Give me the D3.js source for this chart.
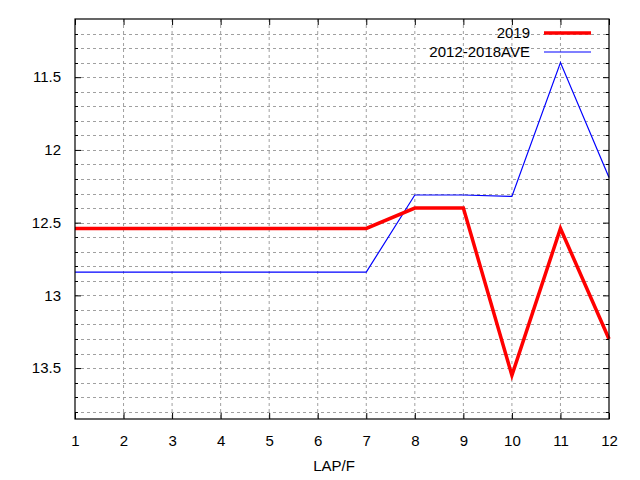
<!DOCTYPE html>
<html>
<head>
<meta charset="utf-8">
<script src="https://cdn.jsdelivr.net/npm/d3@7"></script>
<style>
  body { margin: 0; background: #fff; }
  text { font-family: "Liberation Sans", Arial, sans-serif; }
</style>
</head>
<body>
<svg id="chart"></svg>
<script>
const laps = [1, 2, 3, 4, 5, 6, 7, 8, 9, 10, 11, 12];
const series2019 = [12.54, 12.54, 12.54, 12.54, 12.54, 12.54, 12.54, 12.40, 12.40, 13.55, 12.54, 13.30];
const seriesAve = [12.84, 12.84, 12.84, 12.84, 12.84, 12.84, 12.84, 12.31, 12.31, 12.32, 11.40, 12.19];
const seriesNames = ["2019", "2012-2018AVE"];
const yTicks = [11.5, 12, 12.5, 13, 13.5];
const yMinor = d3.range(111, 139).map(v => v / 10);

const W = 640, H = 480;
const margin = { top: 19, right: 31, bottom: 61, left: 75 };
const width = W - margin.left - margin.right;
const height = H - margin.top - margin.bottom;

const svg = d3.select("#chart").attr("width", W).attr("height", H);
const g = svg.append("g").attr("transform", `translate(${margin.left},${margin.top})`);

const x = d3.scaleLinear().domain([1, 12]).range([0, width]);
const y = d3.scaleLinear().domain([11.1, 13.85]).range([0, height]);

// grid
g.append("g")
    .selectAll("line.gx")
    .data(laps.slice(1, -1))
    .join("line")
    .attr("x1", d => x(d)).attr("x2", d => x(d))
    .attr("y1", 0).attr("y2", height)
    .attr("stroke", "#a0a0a0").attr("stroke-dasharray", "3,3");

g.append("g")
    .selectAll("line.gy")
    .data(yMinor.filter(d => d > 11.1))
    .join("line")
    .attr("x1", 0).attr("x2", width)
    .attr("y1", d => Math.round(y(d)) + 0.5).attr("y2", d => Math.round(y(d)) + 0.5)
    .attr("stroke", "#a0a0a0").attr("stroke-dasharray", "3,3");

// lines
const line = d3.line().x((d, i) => x(laps[i])).y(d => y(d));

g.append("path")
    .datum(seriesAve)
    .attr("d", line)
    .attr("fill", "none")
    .attr("stroke", "#0000ff")
    .attr("stroke-width", 1.2);

g.append("path")
    .datum(series2019)
    .attr("d", line)
    .attr("fill", "none")
    .attr("stroke", "#ff0000")
    .attr("stroke-width", 3.5);

// axes
const fmt = d3.format("~g");
const axL = g.append("g").call(d3.axisLeft(y).tickValues(yTicks).tickSizeInner(-6).tickSizeOuter(0).tickPadding(14).tickFormat(fmt));
const axR = g.append("g").attr("transform", `translate(${width},0)`)
    .call(d3.axisRight(y).tickValues(yTicks).tickSizeInner(-6).tickSizeOuter(0).tickFormat(""));
const axB = g.append("g").attr("transform", `translate(0,${height})`)
    .call(d3.axisBottom(x).tickValues(laps).tickSizeInner(-6).tickSizeOuter(0).tickPadding(16).tickFormat(fmt));
const axT = g.append("g")
    .call(d3.axisTop(x).tickValues(laps).tickSizeInner(-6).tickSizeOuter(0).tickFormat(""));

// minor y ticks
const minorTicks = yMinor.filter(d => d > 11.1 && !yTicks.includes(d));
g.append("g").selectAll("line")
    .data(minorTicks)
    .join("line")
    .attr("x1", 0).attr("x2", 3)
    .attr("y1", d => Math.round(y(d)) + 0.5).attr("y2", d => Math.round(y(d)) + 0.5)
    .attr("stroke", "#000");
g.append("g").selectAll("line")
    .data(minorTicks)
    .join("line")
    .attr("x1", width - 3).attr("x2", width)
    .attr("y1", d => Math.round(y(d)) + 0.5).attr("y2", d => Math.round(y(d)) + 0.5)
    .attr("stroke", "#000");

[axL, axR, axB, axT].forEach(a => {
    a.select(".domain").remove();
    a.selectAll("text").attr("font-size", 15).attr("fill", "#000")
        .attr("font-family", "'Liberation Sans', Arial, sans-serif");
    a.selectAll("line").attr("stroke", "#000");
});

// border
g.append("rect")
    .attr("x", 0).attr("y", 0)
    .attr("width", width).attr("height", height)
    .attr("fill", "none").attr("stroke", "#000").attr("stroke-width", 1.2);

// x label
svg.append("text")
    .attr("x", margin.left + width / 2 - 8)
    .attr("y", 471)
    .attr("text-anchor", "middle")
    .attr("font-size", 15)
    .text("LAP/F");

// legend
const legend = g.append("g");
const colors = ["#ff0000", "#0000ff"];
const widths = [3.5, 1.2];
seriesNames.forEach((name, i) => {
    const ly = 14 + i * 19;
    legend.append("text")
        .attr("x", 455)
        .attr("y", ly + 5)
        .attr("text-anchor", "end")
        .attr("font-size", 15)
        .text(name);
    legend.append("line")
        .attr("x1", 469).attr("x2", 516)
        .attr("y1", ly).attr("y2", ly)
        .attr("stroke", colors[i])
        .attr("stroke-width", widths[i]);
});
</script>
</body>
</html>
